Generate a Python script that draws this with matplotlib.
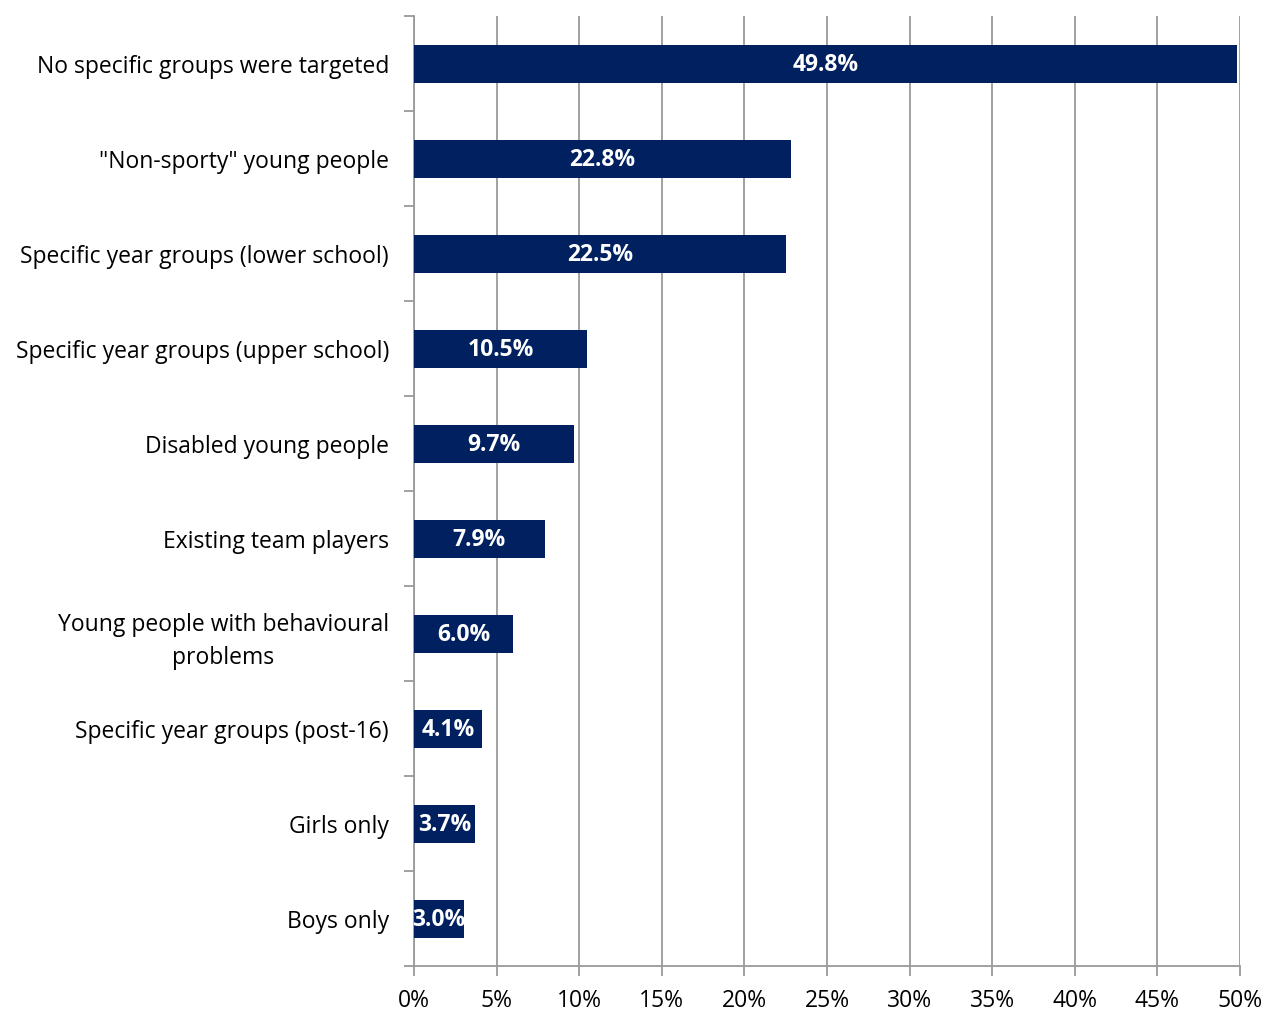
import matplotlib
matplotlib.use("Agg")
import matplotlib.pyplot as plt
import numpy as np
from matplotlib.ticker import FixedLocator, PercentFormatter

categories = [
    "No specific groups were targeted",
    "\"Non-sporty\" young people",
    "Specific year groups (lower school)",
    "Specific year groups (upper school)",
    "Disabled young people",
    "Existing team players",
    "Young people with behavioural\nproblems",
    "Specific year groups (post-16)",
    "Girls only",
    "Boys only",
]
values = [49.8, 22.8, 22.5, 10.5, 9.7, 7.9, 6.0, 4.1, 3.7, 3.0]
x_ticks = [0, 5, 10, 15, 20, 25, 30, 35, 40, 45, 50]

plt.rcParams["font.family"] = ["Open Sans", "DejaVu Sans"]

fig = plt.figure(figsize=(12.66, 10.12), dpi=100)
ax = fig.add_axes([414 / 1266, 1 - 967 / 1012, (1240 - 414) / 1266, (967 - 17) / 1012])

n = len(categories)
y = np.arange(n)
bar_color = "#002060"
grid_color = "#9a9a9a"
fs = 16.5

ax.barh(y, values, height=0.4, color=bar_color, zorder=3)
for yi, v in zip(y, values):
    ax.text(v / 2, yi + 0.01, f"{v:.1f}%", ha="center", va="center", color="white",
            fontsize=fs, fontweight="bold", zorder=4)

ax.set_xlim(0, 50)
ax.set_ylim(n - 0.5, -0.5)
ax.set_xticks(x_ticks)
ax.xaxis.set_major_formatter(PercentFormatter(decimals=0))
ax.grid(axis="x", color=grid_color, linewidth=1.3, zorder=0)

ax.set_yticks(y)
ax.set_yticklabels(categories, fontsize=fs, linespacing=1.45, ha="right", multialignment="center")
ax.yaxis.set_minor_locator(FixedLocator(np.arange(-0.5, n, 1.0)))
ax.tick_params(axis="y", which="major", length=0, pad=18)
ax.tick_params(axis="y", which="minor", length=7, width=1.3, color=grid_color)
ax.tick_params(axis="x", which="major", length=7, width=1.3, color=grid_color,
               labelsize=fs, pad=9)

for side in ("top", "right"):
    ax.spines[side].set_visible(False)
for side in ("left", "bottom"):
    ax.spines[side].set_color(grid_color)
    ax.spines[side].set_linewidth(1.3)

fig.savefig("out.png", dpi=100)
